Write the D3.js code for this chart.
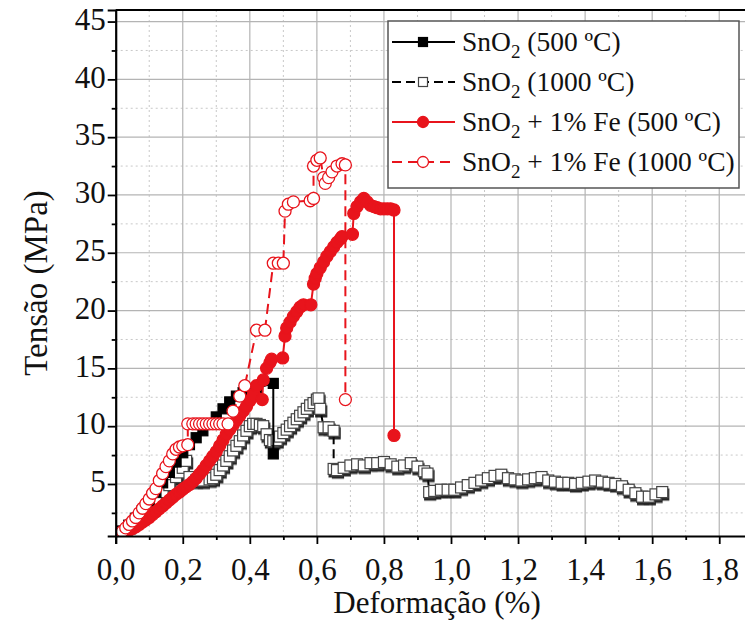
<!DOCTYPE html>
<html>
<head>
<meta charset="utf-8">
<script src="https://cdn.jsdelivr.net/npm/d3@7"></script>
<style>
  html, body { margin: 0; padding: 0; background: #fff; }
  svg { display: block; }
  text { font-family: "Liberation Serif", "Times New Roman", serif; fill: #111; }
</style>
</head>
<body>
<svg id="chart" width="745" height="633"></svg>
<script>
// Tensile curves: strain (%) vs stress (MPa)
const seriesNames = ["SnO₂ (500 ºC)", "SnO₂ (1000 ºC)", "SnO₂ + 1% Fe (500 ºC)", "SnO₂ + 1% Fe (1000 ºC)"];

const sno2_500_strain = [0.00,0.02,0.04,0.06,0.08,0.10,0.12,0.14,0.16,0.18,0.20,0.22,0.24,0.26,0.28,0.30,0.32,0.34,0.36,0.38,0.40,0.42,0.47,0.47];
const sno2_500_stress = [0.5,0.9,1.4,2.0,2.7,3.4,4.3,5.1,6.0,6.9,7.7,8.4,9.0,9.6,10.2,10.8,11.5,12.1,12.6,12.9,13.1,13.3,13.7,7.6];

const sno2_1000_strain = [0.00,0.02,0.04,0.06,0.08,0.10,0.12,0.14,0.16,0.18,0.19,0.20,0.21,0.22,0.24,0.26,0.28,0.29,0.30,0.31,0.32,0.33,0.34,0.35,0.36,0.37,0.38,0.39,0.40,0.41,0.42,0.43,0.44,0.45,0.46,0.47,0.48,0.49,0.50,0.51,0.52,0.53,0.54,0.55,0.56,0.57,0.58,0.59,0.60,0.605,0.61,0.62,0.635,0.65,0.65,0.66,0.68,0.70,0.72,0.74,0.76,0.78,0.80,0.82,0.84,0.86,0.88,0.90,0.92,0.93,0.935,0.95,0.97,0.99,1.01,1.03,1.05,1.07,1.09,1.11,1.13,1.15,1.17,1.19,1.21,1.23,1.25,1.27,1.29,1.31,1.33,1.35,1.37,1.39,1.41,1.43,1.45,1.47,1.49,1.51,1.53,1.55,1.57,1.59,1.61,1.63];
const sno2_1000_stress = [0.5,0.9,1.4,2.0,2.6,3.1,3.7,4.3,4.9,5.6,6.0,6.4,7.0,5.6,5.3,5.3,5.4,5.5,5.8,6.2,6.6,7.0,7.4,7.9,8.3,8.7,9.2,9.6,10.0,10.2,10.2,10.1,10.0,9.3,8.8,8.7,8.8,9.1,9.4,9.7,10.0,10.3,10.6,10.9,11.2,11.5,11.8,12.0,12.3,12.4,11.5,9.9,9.9,9.6,6.3,6.2,6.4,6.6,6.7,6.6,6.8,6.8,6.9,6.7,6.5,6.6,6.8,6.5,6.1,5.9,4.3,4.4,4.5,4.5,4.5,4.7,4.9,5.1,5.3,5.5,5.7,5.8,5.5,5.4,5.3,5.4,5.5,5.6,5.3,5.2,5.1,5.1,5.0,5.1,5.2,5.3,5.2,5.1,5.0,4.8,4.5,4.2,3.9,3.9,4.1,4.3];

const fe_500_strain = [0.00,0.01,0.02,0.03,0.04,0.05,0.06,0.07,0.08,0.09,0.10,0.11,0.12,0.13,0.14,0.15,0.16,0.17,0.18,0.19,0.20,0.21,0.22,0.23,0.24,0.25,0.26,0.27,0.28,0.29,0.30,0.31,0.32,0.33,0.34,0.35,0.36,0.37,0.38,0.39,0.40,0.41,0.42,0.437,0.44,0.45,0.46,0.465,0.498,0.505,0.51,0.52,0.53,0.54,0.55,0.56,0.582,0.59,0.595,0.60,0.61,0.62,0.63,0.64,0.65,0.66,0.67,0.675,0.706,0.71,0.72,0.73,0.74,0.75,0.76,0.77,0.78,0.79,0.80,0.81,0.82,0.83,0.83];
const fe_500_stress = [0.5,0.6,0.7,0.85,1.0,1.15,1.3,1.5,1.7,1.9,2.1,2.35,2.6,2.85,3.1,3.35,3.6,3.85,4.1,4.3,4.55,4.75,4.95,5.2,5.5,5.85,6.2,6.6,7.0,7.4,7.8,8.3,8.8,9.3,9.7,10.1,10.5,10.9,11.3,11.7,12.2,12.7,13.5,12.3,14.0,15.0,15.5,15.8,15.9,17.8,18.5,19.0,19.5,19.9,20.3,20.5,20.5,22.3,22.8,23.2,23.7,24.2,24.7,25.1,25.5,25.9,26.2,26.4,26.6,28.4,29.0,29.4,29.7,29.4,29.1,29.0,28.9,28.8,28.8,28.8,28.8,28.7,9.2];

const fe_1000_strain = [0.00,0.01,0.02,0.03,0.04,0.05,0.06,0.07,0.08,0.09,0.10,0.11,0.12,0.13,0.14,0.15,0.16,0.17,0.18,0.19,0.20,0.215,0.215,0.23,0.24,0.25,0.26,0.27,0.28,0.29,0.30,0.31,0.32,0.335,0.35,0.37,0.385,0.42,0.445,0.47,0.485,0.50,0.505,0.515,0.53,0.58,0.59,0.59,0.60,0.61,0.62,0.625,0.635,0.645,0.66,0.675,0.685,0.685];
const fe_1000_stress = [0.5,0.7,0.9,1.2,1.5,1.8,2.1,2.5,2.9,3.3,3.7,4.2,4.6,5.3,5.9,6.5,7.0,7.6,8.0,8.2,8.3,8.4,10.2,10.2,10.2,10.2,10.2,10.2,10.2,10.2,10.2,10.2,10.2,10.2,11.3,12.6,13.5,18.3,18.3,24.1,24.1,24.1,28.6,29.2,29.4,29.5,29.7,32.5,33.0,33.2,31.5,31.0,31.5,32.0,32.5,32.7,32.6,12.3];

const xTicks = [0,0.2,0.4,0.6,0.8,1.0,1.2,1.4,1.6,1.8];
const yTicks = [5,10,15,20,25,30,35,40,45];

const svg = d3.select("#chart");
const margin = {left: 115.7, top: 10, bottom: 536};
const x = d3.scaleLinear().domain([0, 1.9]).range([margin.left, margin.left + 1.9 * 335.3]);
const y = d3.scaleLinear().domain([0.5, 46]).range([margin.bottom, margin.top]);
const plotRight = x(1.9);

const defs = svg.append("defs");
// clip region for the data
defs.append("clipPath").attr("id", "plotClip")
  .append("rect").attr("x", margin.left).attr("y", margin.top)
  .attr("width", plotRight - margin.left).attr("height", margin.bottom - margin.top);
// hard dark edge under the open square markers
defs.append("filter").attr("id", "squareShadow").attr("x", "-10%").attr("y", "-10%").attr("width", "120%").attr("height", "120%")
  .append("feDropShadow").attr("dx", 1).attr("dy", 2.5).attr("stdDeviation", 0.4)
  .attr("flood-color", "#111").attr("flood-opacity", 0.9);

// grid
const grid = svg.append("g");
const xMinor = d3.range(0.1, 1.9, 0.2);
const yMinor = d3.range(2.5, 46, 5);
grid.selectAll(".xminor").data(xMinor).join("line")
  .attr("x1", d => x(d)).attr("x2", d => x(d)).attr("y1", margin.top).attr("y2", margin.bottom)
  .attr("stroke", "#c8c8c8").attr("stroke-width", 1).attr("stroke-dasharray", "2,3");
grid.selectAll(".yminor").data(yMinor).join("line")
  .attr("x1", margin.left).attr("x2", plotRight).attr("y1", d => y(d)).attr("y2", d => y(d))
  .attr("stroke", "#c8c8c8").attr("stroke-width", 1).attr("stroke-dasharray", "2,3");
grid.selectAll(".xmajor").data(xTicks.slice(1)).join("line")
  .attr("x1", d => x(d)).attr("x2", d => x(d)).attr("y1", margin.top).attr("y2", margin.bottom)
  .attr("stroke", "#b4b4b4").attr("stroke-width", 1.2);
grid.selectAll(".ymajor").data(yTicks).join("line")
  .attr("x1", margin.left).attr("x2", plotRight).attr("y1", d => y(d)).attr("y2", d => y(d))
  .attr("stroke", "#b4b4b4").attr("stroke-width", 1.2);

// series (legend order); drawOrder puts the filled black curve above the open squares
const red = "#e8141c";
const series = [
  {xs: sno2_500_strain, ys: sno2_500_stress, color: "#000", dash: null, shape: "square", fill: "#000", stroke: "#000", size: 10},
  {xs: sno2_1000_strain, ys: sno2_1000_stress, color: "#000", dash: "9,5", shape: "square", fill: "#fff", stroke: "#444", size: 11, shadow: true},
  {xs: fe_500_strain, ys: fe_500_stress, color: red, dash: null, shape: "circle", fill: red, stroke: red, size: 12},
  {xs: fe_1000_strain, ys: fe_1000_stress, color: red, dash: "10,6", shape: "circle", fill: "#fff", stroke: red, size: 12}
];
const drawOrder = [1, 0, 2, 3];

const dataLayer = svg.append("g").attr("clip-path", "url(#plotClip)");
const line = d3.line().x(d => x(d[0])).y(d => y(d[1]));

function drawMarker(g, s, cx, cy) {
  if (s.shape === "square") {
    g.append("rect").attr("x", cx - s.size / 2).attr("y", cy - s.size / 2)
      .attr("width", s.size).attr("height", s.size)
      .attr("fill", s.fill).attr("stroke", s.stroke).attr("stroke-width", 1.2);
  } else {
    g.append("circle").attr("cx", cx).attr("cy", cy).attr("r", s.size / 2)
      .attr("fill", s.fill).attr("stroke", s.stroke).attr("stroke-width", 1.3);
  }
}

drawOrder.forEach(k => {
  const s = series[k];
  const pts = s.xs.map((v, i) => [v, s.ys[i]]);
  const g = dataLayer.append("g");
  g.append("path").datum(pts).attr("d", line)
    .attr("fill", "none").attr("stroke", s.color).attr("stroke-width", 2)
    .attr("stroke-dasharray", s.dash);
  const mg = g.append("g");
  if (s.shadow) mg.attr("filter", "url(#squareShadow)");
  pts.forEach(p => drawMarker(mg, s, x(p[0]), y(p[1])));
});

// axes
const xAxis = d3.axisBottom(x).tickValues(xTicks).tickSize(8).tickPadding(14)
  .tickFormat(d => d3.format(".1f")(d).replace(".", ","));
const gx = svg.append("g").attr("transform", `translate(0,${margin.bottom})`).call(xAxis);
svg.append("g").attr("transform", `translate(0,${margin.bottom})`)
  .call(d3.axisBottom(x).tickValues(xMinor).tickSize(4).tickFormat(""))
  .call(g => g.select(".domain").remove());
const yAxis = d3.axisLeft(y).tickValues(yTicks).tickSize(8).tickPadding(2);
const gy = svg.append("g").attr("transform", `translate(${margin.left},0)`).call(yAxis);
svg.append("g").attr("transform", `translate(${margin.left},0)`)
  .call(d3.axisLeft(y).tickValues(yMinor).tickSize(4).tickFormat(""))
  .call(g => g.select(".domain").remove());

[gx, gy].forEach(g => {
  g.select(".domain").attr("stroke", "#000").attr("stroke-width", 2.2);
  g.selectAll(".tick text").attr("font-size", 31).attr("fill", "#111");
});
gy.selectAll(".tick text").attr("dy", "0.25em");
svg.selectAll(".tick line").attr("stroke", "#000").attr("stroke-width", 1.8);

// top border
svg.append("line").attr("x1", margin.left).attr("x2", plotRight)
  .attr("y1", margin.top).attr("y2", margin.top).attr("stroke", "#000").attr("stroke-width", 2.2);

// axis titles
svg.append("text").attr("x", 437).attr("y", 613).attr("text-anchor", "middle")
  .attr("font-size", 31).text("Deformação (%)");
svg.append("text").attr("transform", `translate(47,283) rotate(-90)`)
  .attr("text-anchor", "middle").attr("font-size", 33).text("Tensão (MPa)");

// legend
const legend = svg.append("g");
legend.append("rect").attr("x", 388).attr("y", 21).attr("width", 351).attr("height", 167)
  .attr("fill", "#fff").attr("stroke", "#555").attr("stroke-width", 1.5);
series.forEach((s, i) => {
  const cy = 42 + i * 40;
  const g = legend.append("g");
  g.append("line").attr("x1", 392).attr("x2", 455).attr("y1", cy).attr("y2", cy)
    .attr("stroke", s.color).attr("stroke-width", 2).attr("stroke-dasharray", s.dash);
  drawMarker(g, Object.assign({}, s, {size: s.shape === "square" ? 9 : 11}), 423, cy);
  const name = seriesNames[i];
  const parts = name.split("₂");
  const t = g.append("text").attr("x", 462).attr("y", cy + 9).attr("font-size", 27.5);
  t.append("tspan").text(parts[0]);
  t.append("tspan").attr("font-size", 19).attr("dy", 7).text("2");
  t.append("tspan").attr("dy", -7).text(parts[1]);
});
</script>
</body>
</html>
